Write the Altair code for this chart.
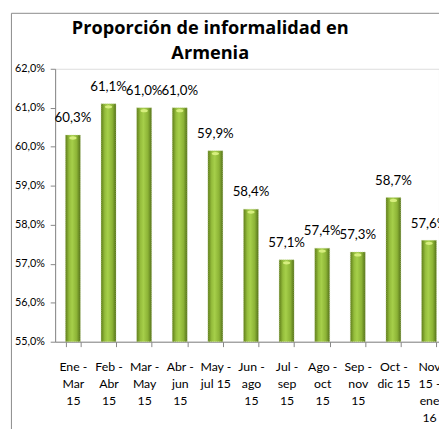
import altair as alt
import pandas as pd

periods = ["Ene - Mar 15", "Feb - Abr 15", "Mar - May 15", "Abr - jun 15", "May - jul 15",
           "Jun - ago 15", "Jul - sep 15", "Ago - oct 15", "Sep - nov 15", "Oct - dic 15",
           "Nov 15 - ene 16"]
label_lines = ["Ene -|Mar|15", "Feb -|Abr|15", "Mar -|May|15", "Abr -|jun|15", "May -|jul 15",
               "Jun -|ago|15", "Jul -|sep|15", "Ago -|oct|15", "Sep -|nov|15", "Oct -|dic 15",
               "Nov|15 -|ene|16"]
values = [60.3, 61.1, 61.0, 61.0, 59.9, 58.4, 57.1, 57.4, 57.3, 58.7, 57.6]
y_ticks = [55, 56, 57, 58, 59, 60, 61, 62]
title_lines = ["Proporción de informalidad en", "Armenia"]

df = pd.DataFrame({"periodo": periods, "lab": label_lines, "valor": values})
df["txt"] = [f"{v:.1f}".replace(".", ",") + "%" for v in values]

FONT = "Lato"
W = 391
RANGE = 399
H = 278

lab_expr = "split(datum.label, '|')"
x_enc = alt.X("lab:N", sort=label_lines, title=None,
              scale=alt.Scale(range=[0, RANGE], paddingInner=0.58, paddingOuter=0.29),
              axis=alt.Axis(labelExpr=lab_expr, labelAngle=0, labelFontSize=12.5,
                            labelLineHeight=17.5, labelPadding=14, labelBaseline="top",
                            tickBand="extent", tickSize=5, labelFont=FONT,
                            labelColor="#000000", domainColor="#868686",
                            tickColor="#868686", labelOverlap=False, labelBound=False))
y_enc = alt.Y("valor:Q", title=None,
              scale=alt.Scale(domain=[55, 62], zero=False, nice=False),
              axis=alt.Axis(values=y_ticks, grid=False, tickSize=5, labelPadding=6,
                            labelOverlap=False, labelFlush=False,
                            labelExpr="replace(format(datum.value, '.1f'), '.', ',') + '%'",
                            labelFontSize=11, labelFont=FONT, labelColor="#000000",
                            domainColor="#868686", tickColor="#868686"))

grad = alt.Gradient(gradient="linear", x1=0, x2=1, y1=0, y2=0,
                    stops=[alt.GradientStop(offset=0, color="#5f7d1a"),
                           alt.GradientStop(offset=0.25, color="#95bd3c"),
                           alt.GradientStop(offset=0.45, color="#a6cf4a"),
                           alt.GradientStop(offset=0.75, color="#8cb336"),
                           alt.GradientStop(offset=1, color="#55721a")])

base = alt.Chart(df).encode(x=x_enc, y=y_enc)
bars = base.mark_bar(color=grad, stroke="#c9d9a0", strokeWidth=0.6,
                     strokeDash=[1, 1]).encode(y2=alt.datum(55))
cap = base.mark_point(shape="M-1,0A1,0.45 0 1,0 1,0A1,0.45 0 1,0 -1,0Z", size=55,
                      filled=True, color="#d6ee7e", opacity=1, yOffset=3)
labels = base.mark_text(font=FONT, fontSize=13.5, dy=-17, baseline="middle",
                        color="#000000").encode(text="txt:N")

frame_df = pd.DataFrame({"k": [0]})
frame_v = alt.Chart(frame_df).mark_rule(color="#8a8a8a", strokeWidth=1).encode(
    x=alt.value(-44.5), y=alt.value(-56.5), y2=alt.value(420))
frame_h = alt.Chart(frame_df).mark_rule(color="#8a8a8a", strokeWidth=1).encode(
    x=alt.value(-44.5), x2=alt.value(460), y=alt.value(-56.5))

title_df = pd.DataFrame({"t": title_lines, "row": [0, 1]})
title = alt.Chart(title_df).mark_text(font="Open Sans", fontSize=18.5, fontWeight="bold",
                                      color="#000000", baseline="middle", align="center",
                                      x=158).encode(
    text="t:N",
    y=alt.Y("row:O", axis=None, scale=alt.Scale(range=[-41, -16], padding=0)))

chart = alt.layer(frame_v, frame_h, bars, cap, labels, title).resolve_scale(
    y="independent").properties(
    width=W, height=H,
    autosize=alt.AutoSizeParams(type="none"),
    padding={"left": 48, "top": 58, "right": 0, "bottom": 85},
).configure_view(stroke="transparent").configure(background="#ffffff")

chart.save("out.html", embed_options={"renderer": "svg", "actions": False})
